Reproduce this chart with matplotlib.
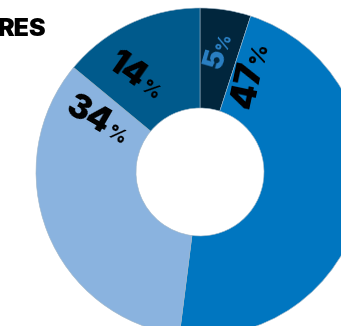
import matplotlib.pyplot as plt
import numpy as np

# share of each segment, clockwise from 12 o'clock
shares = [5, 47, 34, 14]
colors = ['#01263d', '#0076c0', '#8ab3df', '#005a8c']
label_colors = ['#2b80c4', 'black', 'black', 'black']
title_text = 'RES'

# label placement (layout only): angle in degrees, radius in px, text rotation
label_angle = [78, 60, 159, 127]
label_rad = [123, 124, 104, 104]
label_rot = [74, 78, -30, -35]
label_size = [21, 26, 24, 24]

W, H = 341, 326
fig = plt.figure(figsize=(W / 100, H / 100), dpi=100)
ax = fig.add_axes([0, 0, 1, 1])

cx, cy = 200, 154
R, r_in = 164, 64
ax.pie(shares, colors=colors, startangle=90, counterclock=False,
       center=(cx, cy), radius=R,
       wedgeprops=dict(width=R - r_in, edgecolor='#9fb6c8', linewidth=0.4))

# pie() resets the limits, so set them afterwards
ax.set_xlim(0, W)
ax.set_ylim(0, H)
ax.set_aspect('equal')
ax.axis('off')

for val, ang, rad, rot, fs, col in zip(shares, label_angle, label_rad,
                                        label_rot, label_size, label_colors):
    a = np.deg2rad(ang)
    x, y = cx + rad * np.cos(a), cy + rad * np.sin(a)
    ax.text(x, y, str(val), rotation=rot, rotation_mode='anchor',
            ha='right', va='baseline', fontsize=fs, fontweight=900,
            family='Inter', color=col)
    ax.text(x + 1, y, '%', rotation=rot, rotation_mode='anchor',
            ha='left', va='baseline', fontsize=fs * 0.6, fontweight=700,
            family='Inter', color=col)

ax.text(-2, 290, title_text, ha='left', va='baseline', fontsize=18,
        fontweight=900, family='Inter', color='black')

fig.savefig('out.png', dpi=100)
